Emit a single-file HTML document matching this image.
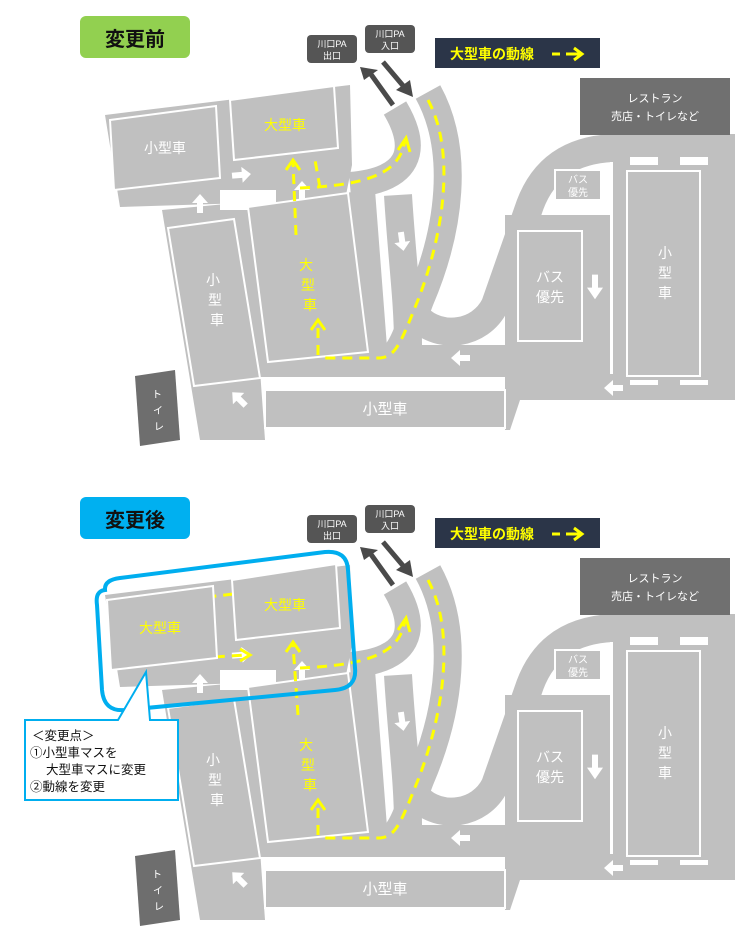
<!DOCTYPE html>
<html><head><meta charset="utf-8"><style>
html,body{margin:0;padding:0;background:#fff;}
svg{display:block;font-family:"Liberation Sans","Noto Sans CJK JP",sans-serif;}
</style></head><body>
<svg width="750" height="950" viewBox="0 0 750 950" xmlns="http://www.w3.org/2000/svg">
<defs>
<polygon id="ar" points="-3,8 -3,-2 -8,-2 0,-11 8,-2 3,-2 3,8" fill="#fff"/>
<g id="map">
  <!-- pads -->
  <polygon points="105,115 350,85 352,165 345,200 120,207" fill="#c0c0c0"/>
  <polygon points="162,210 375,190 388,360 260,370 265,440 200,440" fill="#c0c0c0"/>
  <rect x="260" y="345" width="350" height="32" fill="#c0c0c0"/>
  <polygon points="505,215 610,215 610,350 505,350" fill="#c0c0c0"/>
  <polygon points="610,148 735,148 735,400 610,400" fill="#c0c0c0"/>
  <polygon points="505,375 735,375 735,400 520,400 510,430 505,430" fill="#c0c0c0"/>
  <!-- roads -->
  <g fill="none" stroke="#c0c0c0" stroke-linejoin="round" stroke-linecap="butt">
    <path d="M428,92 C460,150 450,230 420,300 C405,340 400,355 385,362" stroke-width="28"/>
    <path d="M395,108 C420,150 410,180 350,185" stroke-width="26"/>
    <path d="M398,195 C402,260 408,300 408,345" stroke-width="28"/>
    <path d="M418,318 C440,340 480,335 495,305 L530,205 C545,165 575,150 612,148 L735,148" stroke-width="28"/>
  </g>
  <!-- white gaps -->
  <rect x="220" y="190" width="56" height="20" fill="#fff"/>
  <rect x="610" y="162" width="3" height="212" fill="#fff"/>
  <!-- parking boxes -->
  <g fill="#c0c0c0" stroke="#fff" stroke-width="2">
    <polygon points="168,228 234,219 260,378 194,386"/>
    <polygon points="248,207 348,193 368,352 268,362"/>
    <rect x="265" y="390" width="240" height="38"/>
    <rect x="627" y="171" width="73" height="205"/>
    <rect x="518" y="231" width="64" height="110"/>
    <rect x="555" y="170" width="46" height="30"/>
  </g>
  <g fill="#fff">
    <rect x="630" y="157" width="28" height="8"/><rect x="680" y="157" width="28" height="8"/>
    <rect x="630" y="380" width="28" height="5"/><rect x="680" y="380" width="28" height="5"/>
  </g>
  <!-- white arrows -->
  <use href="#ar" transform="translate(200,205)"/>
  <use href="#ar" transform="translate(302,192)"/>
  <use href="#ar" transform="translate(240,175) rotate(85)"/>
  <use href="#ar" transform="translate(402,240) rotate(172)"/>
  <use href="#ar" transform="translate(485,265) rotate(30)"/>
  <use href="#ar" transform="translate(595,285) scale(1,1.3) rotate(180)"/>
  <use href="#ar" transform="translate(462,358) rotate(-90)"/>
  <use href="#ar" transform="translate(615,388) rotate(-90)"/>
  <use href="#ar" transform="translate(240,400) rotate(-45)"/>
  <!-- PA boxes -->
  <rect x="307" y="35" width="50" height="28" rx="4" fill="#555"/>
  <rect x="365" y="25" width="50" height="28" rx="4" fill="#555"/>
  <line x1="393" y1="105" x2="370" y2="73" stroke="#4a4a4a" stroke-width="5"/>
  <polygon points="360,67 378,70 364,80" fill="#4a4a4a"/>
  <line x1="383" y1="62" x2="405" y2="88" stroke="#4a4a4a" stroke-width="5"/>
  <polygon points="413,97 396,90 410,80" fill="#4a4a4a"/>
  <rect x="580" y="78" width="150" height="57" fill="#707070"/>
  <polygon points="135,376 175,370 180,440 140,446" fill="#6e6e6e"/>
  <rect x="435" y="38" width="165" height="30" fill="#2b3548"/>
  <!-- main yellow route (right side) -->
  <g fill="none" stroke="#ffff00" stroke-width="3" stroke-dasharray="10,7">
    <path d="M428,100 C455,150 445,230 418,300 C400,345 395,358 378,358 L320,358"/>
    <path d="M300,188 C365,185 400,175 405,140"/>
  </g>
  <polyline points="398,150 406,138 410,152" fill="none" stroke="#ffff00" stroke-width="3"/>
</g>
</defs>

<!-- ===== TOP ===== -->
<rect x="80" y="16" width="110" height="42" rx="6" fill="#92d050"/>
<text x="135" y="46" font-size="20" font-weight="bold" text-anchor="middle" fill="#111">変更前</text>
<use href="#map"/>
<g fill="none" stroke="#ffff00" stroke-width="3" stroke-dasharray="10,7">
  <path d="M318,355 L318,325"/>
  <path d="M296,235 L293,162"/>
  <path d="M320,188 L315,160"/>
</g>
<polyline points="311,330 318,320 325,330" fill="none" stroke="#ffff00" stroke-width="3"/>
<polyline points="286,170 293,160 300,170" fill="none" stroke="#ffff00" stroke-width="3"/>
<g fill="#c0c0c0" stroke="#fff" stroke-width="2">
  <polygon points="110,120 216,106 220,178 114,190"/>
  <polygon points="230,100 334,86 338,148 234,160"/>
</g>
<g font-size="13" fill="#fff" text-anchor="middle">
  <text x="165" y="153" font-size="14">小型車</text>
  <text x="285" y="130" font-size="14" fill="#ffff00">大型車</text>
  <text x="213" y="285" font-size="14">小</text><text x="215" y="305" font-size="14">型</text><text x="217" y="325" font-size="14">車</text>
  <text x="306" y="270" font-size="14" fill="#ffff00">大</text><text x="308" y="290" font-size="14" fill="#ffff00">型</text><text x="310" y="310" font-size="14" fill="#ffff00">車</text>
  <text x="385" y="414" font-size="15">小型車</text>
  <text x="550" y="282" font-size="14">バス</text><text x="550" y="302" font-size="14">優先</text>
  <text x="578" y="183" font-size="10">バス</text><text x="578" y="196" font-size="10">優先</text>
  <text x="665" y="258" font-size="14">小</text><text x="665" y="278" font-size="14">型</text><text x="665" y="298" font-size="14">車</text>
  <text x="655" y="102" font-size="11">レストラン</text><text x="655" y="120" font-size="11">売店・トイレなど</text>
  <text x="332" y="47" font-size="9">川口PA</text><text x="332" y="59" font-size="9">出口</text>
  <text x="390" y="37" font-size="9">川口PA</text><text x="390" y="49" font-size="9">入口</text>
  <text x="157" y="398" font-size="10">ト</text><text x="158" y="414" font-size="10">イ</text><text x="159" y="430" font-size="10">レ</text>
  <text x="492" y="59" font-size="14" font-weight="bold" fill="#ffff00">大型車の動線</text>
</g>
<line x1="552" y1="54" x2="560" y2="54" stroke="#ffff00" stroke-width="3"/>
<line x1="566" y1="54" x2="580" y2="54" stroke="#ffff00" stroke-width="3"/>
<polyline points="574,48 582,54 574,60" fill="none" stroke="#ffff00" stroke-width="3"/>

<!-- ===== BOTTOM ===== -->
<rect x="80" y="497" width="110" height="42" rx="6" fill="#00b0f0"/>
<text x="135" y="527" font-size="20" font-weight="bold" text-anchor="middle" fill="#111">変更後</text>
<use href="#map" transform="translate(0,480)"/>
<g fill="none" stroke="#ffff00" stroke-width="3" stroke-dasharray="10,7">
  <path d="M318,835 L318,805"/>
  <path d="M298,715 L293,645"/>
  <path d="M165,640 L167,660 L245,655"/>
  <path d="M250,592 L200,598"/>
</g>
<polyline points="311,810 318,800 325,810" fill="none" stroke="#ffff00" stroke-width="3"/>
<polyline points="286,652 293,642 300,652" fill="none" stroke="#ffff00" stroke-width="3"/>
<polyline points="240,649 250,655 240,661" fill="none" stroke="#ffff00" stroke-width="3"/>
<polyline points="206,591 196,598 206,605" fill="none" stroke="#ffff00" stroke-width="3"/>
<g fill="#c0c0c0" stroke="#fff" stroke-width="2">
  <polygon points="107,600 213,586 217,658 111,670"/>
  <polygon points="232,580 336,564 340,628 236,640"/>
</g>
<path d="M105,590 Q95,591 97,605 L102,690 Q104,712 125,710 L335,690 Q357,688 355,668 L348,570 Q347,550 325,552 L120,578 Q104,580 105,590 Z" fill="none" stroke="#00aeef" stroke-width="4"/>
<g font-size="13" fill="#fff" text-anchor="middle">
  <text x="160" y="633" font-size="14" fill="#ffff00">大型車</text>
  <text x="285" y="610" font-size="14" fill="#ffff00">大型車</text>
  <text x="213" y="765" font-size="14">小</text><text x="215" y="785" font-size="14">型</text><text x="217" y="805" font-size="14">車</text>
  <text x="306" y="750" font-size="14" fill="#ffff00">大</text><text x="308" y="770" font-size="14" fill="#ffff00">型</text><text x="310" y="790" font-size="14" fill="#ffff00">車</text>
  <text x="385" y="894" font-size="15">小型車</text>
  <text x="550" y="762" font-size="14">バス</text><text x="550" y="782" font-size="14">優先</text>
  <text x="578" y="663" font-size="10">バス</text><text x="578" y="676" font-size="10">優先</text>
  <text x="665" y="738" font-size="14">小</text><text x="665" y="758" font-size="14">型</text><text x="665" y="778" font-size="14">車</text>
  <text x="655" y="582" font-size="11">レストラン</text><text x="655" y="600" font-size="11">売店・トイレなど</text>
  <text x="332" y="527" font-size="9">川口PA</text><text x="332" y="539" font-size="9">出口</text>
  <text x="390" y="517" font-size="9">川口PA</text><text x="390" y="529" font-size="9">入口</text>
  <text x="157" y="878" font-size="10">ト</text><text x="158" y="894" font-size="10">イ</text><text x="159" y="910" font-size="10">レ</text>
  <text x="492" y="539" font-size="14" font-weight="bold" fill="#ffff00">大型車の動線</text>
</g>
<line x1="552" y1="534" x2="560" y2="534" stroke="#ffff00" stroke-width="3"/>
<line x1="566" y1="534" x2="580" y2="534" stroke="#ffff00" stroke-width="3"/>
<polyline points="574,528 582,534 574,540" fill="none" stroke="#ffff00" stroke-width="3"/>
<!-- callout -->
<path d="M25,720 L118,720 L146,672 L150,720 L178,720 L178,800 L25,800 Z" fill="#fff" stroke="#00aeef" stroke-width="2"/>
<g font-size="12.5" fill="#111">
  <text x="32" y="740">＜変更点＞</text>
  <text x="30" y="757">①小型車マスを</text>
  <text x="46" y="774">大型車マスに変更</text>
  <text x="30" y="791">②動線を変更</text>
</g>
</svg>
</body></html>
